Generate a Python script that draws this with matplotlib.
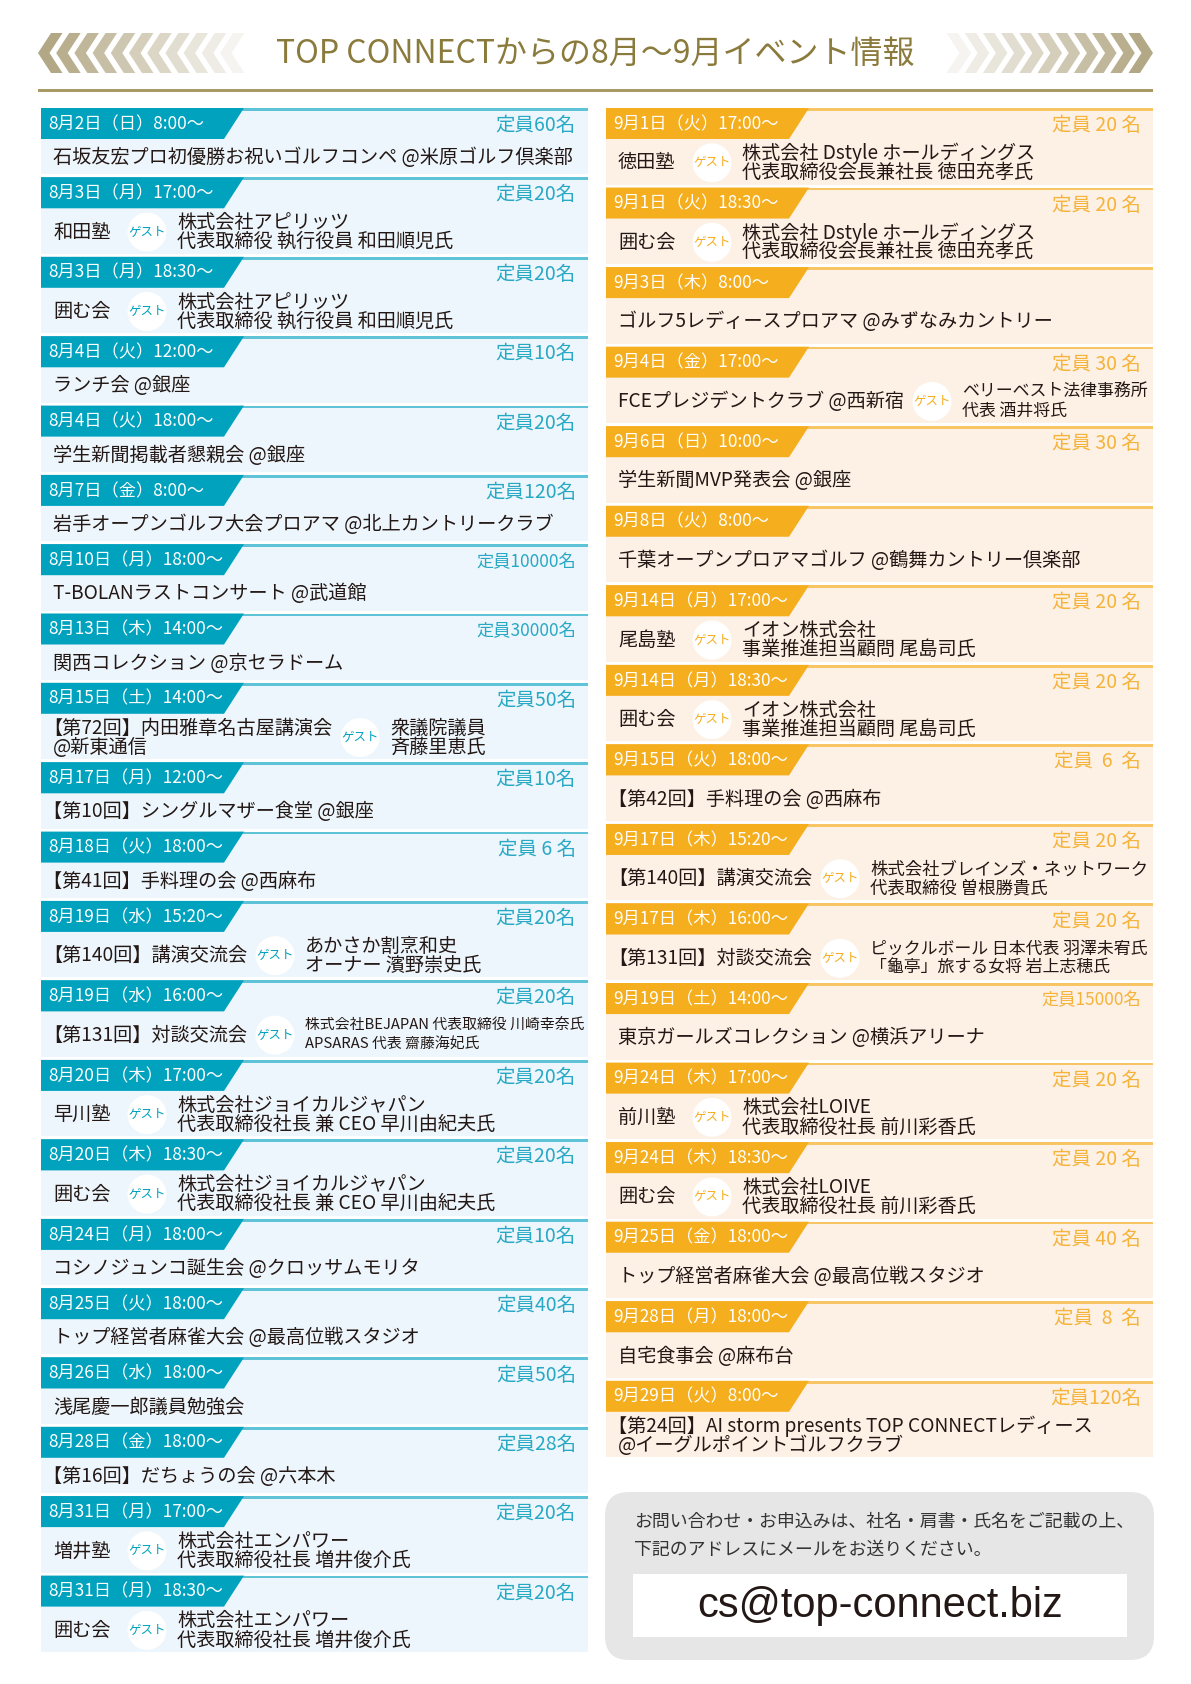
import matplotlib
matplotlib.use('Agg')
import matplotlib.pyplot as plt
from matplotlib.patches import Polygon, Rectangle, Circle, FancyBboxPatch
import numpy as np

plt.rcParams['font.family'] = ['Noto Sans CJK JP', 'DejaVu Sans']

# ---------------- datos ----------------
titulo = 'TOP CONNECTからの8月～9月イベント情報'

aug_fechas = ['8月2日（日）8:00～', '8月3日（月）17:00～', '8月3日（月）18:30～',
              '8月4日（火）12:00～', '8月4日（火）18:00～', '8月7日（金）8:00～',
              '8月10日（月）18:00～', '8月13日（木）14:00～', '8月15日（土）14:00～',
              '8月17日（月）12:00～', '8月18日（火）18:00～', '8月19日（水）15:20～',
              '8月19日（水）16:00～', '8月20日（木）17:00～', '8月20日（木）18:30～',
              '8月24日（月）18:00～', '8月25日（火）18:00～', '8月26日（水）18:00～',
              '8月28日（金）18:00～', '8月31日（月）17:00～', '8月31日（月）18:30～']
aug_cupos = ['定員60名', '定員20名', '定員20名', '定員10名', '定員20名', '定員120名',
             '定員10000名', '定員30000名', '定員50名', '定員10名', '定員 6 名', '定員20名',
             '定員20名', '定員20名', '定員20名', '定員10名', '定員40名', '定員50名',
             '定員28名', '定員20名', '定員20名']
aug_eventos = ['石坂友宏プロ初優勝お祝いゴルフコンペ @米原ゴルフ倶楽部', '和田塾', '囲む会',
               'ランチ会 @銀座', '学生新聞掲載者懇親会 @銀座',
               '岩手オープンゴルフ大会プロアマ @北上カントリークラブ',
               'T-BOLANラストコンサート @武道館', '関西コレクション @京セラドーム',
               '【第72回】内田雅章名古屋講演会\n@新東通信', '【第10回】シングルマザー食堂 @銀座',
               '【第41回】手料理の会 @西麻布', '【第140回】講演交流会', '【第131回】対談交流会',
               '早川塾', '囲む会', 'コシノジュンコ誕生会 @クロッサムモリタ',
               'トップ経営者麻雀大会 @最高位戦スタジオ', '浅尾慶一郎議員勉強会',
               '【第16回】だちょうの会 @六本木', '増井塾', '囲む会']
aug_invitados = ['', '株式会社アピリッツ\n代表取締役 執行役員 和田順児氏',
                 '株式会社アピリッツ\n代表取締役 執行役員 和田順児氏',
                 '', '', '', '', '', '衆議院議員\n斉藤里恵氏', '', '',
                 'あかさか割烹和史\nオーナー 濱野崇史氏',
                 '株式会社BEJAPAN 代表取締役 川崎幸奈氏\nAPSARAS 代表 齋藤海妃氏',
                 '株式会社ジョイカルジャパン\n代表取締役社長 兼 CEO 早川由紀夫氏',
                 '株式会社ジョイカルジャパン\n代表取締役社長 兼 CEO 早川由紀夫氏',
                 '', '', '', '', '株式会社エンパワー\n代表取締役社長 増井俊介氏',
                 '株式会社エンパワー\n代表取締役社長 増井俊介氏']

sep_fechas = ['9月1日（火）17:00～', '9月1日（火）18:30～', '9月3日（木）8:00～',
              '9月4日（金）17:00～', '9月6日（日）10:00～', '9月8日（火）8:00～',
              '9月14日（月）17:00～', '9月14日（月）18:30～', '9月15日（火）18:00～',
              '9月17日（木）15:20～', '9月17日（木）16:00～', '9月19日（土）14:00～',
              '9月24日（木）17:00～', '9月24日（木）18:30～', '9月25日（金）18:00～',
              '9月28日（月）18:00～', '9月29日（火）8:00～']
sep_cupos = ['定員 20 名', '定員 20 名', '', '定員 30 名', '定員 30 名', '', '定員 20 名',
             '定員 20 名', '定員  6  名', '定員 20 名', '定員 20 名', '定員15000名',
             '定員 20 名', '定員 20 名', '定員 40 名', '定員  8  名', '定員120名']
sep_eventos = ['徳田塾', '囲む会', 'ゴルフ5レディースプロアマ @みずなみカントリー',
               'FCEプレジデントクラブ @西新宿', '学生新聞MVP発表会 @銀座',
               '千葉オープンプロアマゴルフ @鶴舞カントリー倶楽部', '尾島塾', '囲む会',
               '【第42回】手料理の会 @西麻布', '【第140回】講演交流会', '【第131回】対談交流会',
               '東京ガールズコレクション @横浜アリーナ', '前川塾', '囲む会',
               'トップ経営者麻雀大会 @最高位戦スタジオ', '自宅食事会 @麻布台',
               '【第24回】AI storm presents TOP CONNECTレディース\n@イーグルポイントゴルフクラブ']
sep_invitados = ['株式会社 Dstyle ホールディングス\n代表取締役会長兼社長 徳田充孝氏',
                 '株式会社 Dstyle ホールディングス\n代表取締役会長兼社長 徳田充孝氏',
                 '', 'ベリーベスト法律事務所\n代表 酒井将氏', '', '',
                 'イオン株式会社\n事業推進担当顧問 尾島司氏',
                 'イオン株式会社\n事業推進担当顧問 尾島司氏', '',
                 '株式会社ブレインズ・ネットワーク\n代表取締役 曽根勝貴氏',
                 'ピックルボール 日本代表 羽澤未宥氏\n「龜亭」旅する女将 岩上志穂氏',
                 '', '株式会社LOIVE\n代表取締役社長 前川彩香氏',
                 '株式会社LOIVE\n代表取締役社長 前川彩香氏', '', '', '']

contacto = ['お問い合わせ・お申込みは、社名・肩書・氏名をご記載の上、',
            '下記のアドレスにメールをお送りください。']
correo = 'cs@top-connect.biz'

# ---------------- estilo ----------------
W, H = 1191, 1684
ANCHO = 547
TEXTO = '#231815'
FS = 13.8
tema_aug = ('#00a2be', '#5ec3d6', '#edf6fc', '#27a8c4')
tema_sep = ('#f5ae1e', '#f8c565', '#fdf0e5', '#f5b339')

fig = plt.figure(figsize=(W / 100, H / 100), dpi=100)
ax = fig.add_axes([0, 0, 1, 1])
ax.set_xlim(0, W)
ax.set_ylim(H, 0)
ax.axis('off')
fig.canvas.draw()
r = fig.canvas.get_renderer()


def ancho_texto(t):
    bb = t.get_window_extent(r)
    return bb.x0, bb.x1


def ajustar(t, ancho_max, fs):
    x0, x1 = ancho_texto(t)
    if x1 - x0 > ancho_max:
        t.set_fontsize(fs * ancho_max / (x1 - x0))


def chevrones(x_punta, hacia, colores):
    ym, yt, yb = 53, 33, 73
    a, t, paso = 13, 11.5, 18.2
    for i, c in enumerate(colores):
        x = x_punta + hacia * i * paso
        pts = [(x, ym), (x + hacia * a, yt), (x + hacia * (a + t), yt),
               (x + hacia * t, ym), (x + hacia * (a + t), yb), (x + hacia * a, yb)]
        ax.add_patch(Polygon(pts, closed=True, fc=c, ec='none'))


def dibujar_tarjeta(x0, y0, h, fecha, cupo, evento, invitado, tema):
    acento, linea, fondo, color_cupo = tema
    ax.add_patch(Rectangle((x0, y0), ANCHO, h - 3, fc=fondo, ec='none'))
    ax.add_patch(Rectangle((x0, y0), ANCHO, 2.8, fc=linea, ec='none'))
    ax.add_patch(Polygon([(x0, y0), (x0 + 203, y0), (x0 + 183, y0 + 31), (x0, y0 + 31)],
                         closed=True, fc=acento, ec='none'))
    ax.text(x0 + 7, y0 + 16, fecha, color='white', fontsize=12.4, va='center')
    if cupo:
        tc = ax.text(x0 + ANCHO - 12, y0 + 17.5, cupo, color=color_cupo, fontsize=14,
                     ha='right', va='center')
        ajustar(tc, 100, 14)
    yc = y0 + 31 + (h - 34) / 2 + 1
    lineas = evento.split('\n')
    offs = [0] if len(lineas) == 1 else [-9.5, 9.5]
    fin = x0
    for ln, dy in zip(lineas, offs):
        # 【 lleva espacio a la izquierda en la fuente
        xt = x0 + 2 if ln.startswith('【') else x0 + 12
        t = ax.text(xt, yc + dy, ln, color=TEXTO, fontsize=FS, va='center')
        fin = max(fin, ancho_texto(t)[1])
    if invitado:
        bx = max(x0 + 106, fin + 28)
        ax.add_patch(Circle((bx, yc), 19.5, fc='white', ec='none'))
        ax.text(bx, yc, 'ゲスト', color=acento, fontsize=9, ha='center', va='center')
        xs = bx + 30
        limite = x0 + ANCHO - 5
        textos = [ax.text(xs, yc + dy, ln, color=TEXTO, fontsize=FS, va='center')
                  for ln, dy in zip(invitado.split('\n'), [-9.5, 9.5])]
        mayor = max(ancho_texto(t)[1] for t in textos)
        if mayor > limite:
            fs = FS * (limite - xs) / (mayor - xs)
            for t in textos:
                t.set_fontsize(fs)


# ---------------- cabecera ----------------
n_chev = 11
colores = [(0.70, 0.66, 0.52, a) for a in np.linspace(1.0, 0.12, n_chev)]
chevrones(38, 1, colores)
chevrones(W - 38, -1, colores)
ax.text(W / 2, 54, titulo, color='#8a7a3c', fontsize=23, ha='center', va='center')
ax.add_patch(Rectangle((38, 88.5), W - 76, 3, fc='#a89a64', ec='none'))

# ---------------- columnas ----------------
x_izq, x_der, y_ini = 41, 606, 108

y = y_ini
for f, c, e, g in zip(aug_fechas, aug_cupos, aug_eventos, aug_invitados):
    h = 79.5 if ('\n' in e or g) else 69.3
    dibujar_tarjeta(x_izq, y, h, f, c, e, g, tema_aug)
    y += h

y = y_ini
for f, c, e, g in zip(sep_fechas, sep_cupos, sep_eventos, sep_invitados):
    dibujar_tarjeta(x_der, y, 79.55, f, c, e, g, tema_sep)
    y += 79.55

# ---------------- contacto ----------------
ax.add_patch(FancyBboxPatch((605, 1492), 549, 168,
                            boxstyle='round,pad=0,rounding_size=24',
                            fc='#e6e6e6', ec='none'))
for i, ln in enumerate(contacto):
    ax.text(634, 1522 + i * 28, ln, color='#333333', fontsize=12.9, va='center')
ax.add_patch(Rectangle((633, 1574), 494, 63, fc='white', ec='none'))
ax.text(880, 1606, correo, color=TEXTO, fontsize=30, ha='center', va='center',
        family=['Liberation Sans', 'DejaVu Sans'])

fig.savefig('out.png', dpi=100)
